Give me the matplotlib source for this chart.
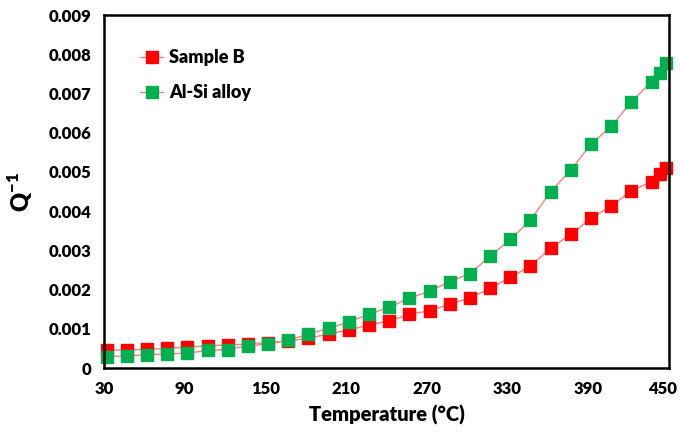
import matplotlib
matplotlib.use("Agg")
import matplotlib.pyplot as plt
from matplotlib.transforms import ScaledTranslation

# temperature (deg C) and internal friction values
temps = [32, 47, 62, 77, 92, 107, 122, 137, 152, 167, 182, 197, 212, 227, 242,
         257, 272, 287, 302, 317, 332, 347, 362, 377, 392, 407, 422, 437, 443, 448]
sample_b = [0.00046, 0.00046, 0.00048, 0.0005, 0.00053, 0.00057, 0.00059, 0.00061,
            0.00065, 0.00069, 0.00076, 0.00087, 0.00097, 0.0011, 0.0012, 0.00137,
            0.00146, 0.00163, 0.00179, 0.00203, 0.00231, 0.0026, 0.00306, 0.00341,
            0.00382, 0.00413, 0.00452, 0.00475, 0.00494, 0.00511]
al_si = [0.00029, 0.00031, 0.00034, 0.00036, 0.00038, 0.00045, 0.00047, 0.00057,
         0.00061, 0.00071, 0.00087, 0.00101, 0.00118, 0.00137, 0.00155, 0.00178,
         0.00196, 0.0022, 0.00241, 0.00285, 0.00328, 0.00377, 0.0045, 0.00505,
         0.00571, 0.00616, 0.00679, 0.0073, 0.00753, 0.00779]
xticks = [30, 90, 150, 210, 270, 330, 390, 450]
yticks = [0, 0.001, 0.002, 0.003, 0.004, 0.005, 0.006, 0.007, 0.008, 0.009]
ytick_labels = ['0', '0.001', '0.002', '0.003', '0.004', '0.005', '0.006', '0.007', '0.008', '0.009']

plt.rcParams['font.family'] = ['Lato', 'DejaVu Sans']
plt.rcParams['font.weight'] = 'heavy'

fig = plt.figure(figsize=(6.81, 4.32), dpi=100)
ax = fig.add_axes([0.1527, 0.148, 0.8297, 0.817])

line_col = '#ff7f7f'
ax.plot(temps, sample_b, color=line_col, lw=1, marker='s', markersize=8.5,
        markerfacecolor='#ff0000', markeredgecolor='#ff0000', label='Sample B', clip_on=False)
ax.plot(temps, al_si, color=line_col, lw=1, marker='s', markersize=8.5,
        markerfacecolor='#00b050', markeredgecolor='#00b050', label='Al-Si alloy', clip_on=False)

ax.set_xlim(30, 450)
ax.set_ylim(0, 0.009)
ax.set_xticks(xticks)
ax.set_yticks(yticks)
ax.set_yticklabels(ytick_labels)
ax.tick_params(length=0, pad=9, labelsize=12)
for s in ax.spines.values():
    s.set_linewidth(1.8)

# last x label sits right at the figure edge, nudge it in a bit
last = ax.get_xticklabels()[-1]
last.set_transform(last.get_transform() + ScaledTranslation(-6 / 100, 0, fig.dpi_scale_trans))

ax.set_xlabel('Temperature (°C)', fontsize=14.5, fontweight='heavy', labelpad=6)
ax.set_ylabel('Q$^{\\mathregular{-1}}$', fontsize=17, fontweight='heavy', labelpad=10)

ax.legend(loc='upper left', bbox_to_anchor=(0.035, 0.95), frameon=False,
          fontsize=13, handlelength=1.3, handletextpad=0.3, labelspacing=1.0)

fig.savefig('out.png', dpi=100)
